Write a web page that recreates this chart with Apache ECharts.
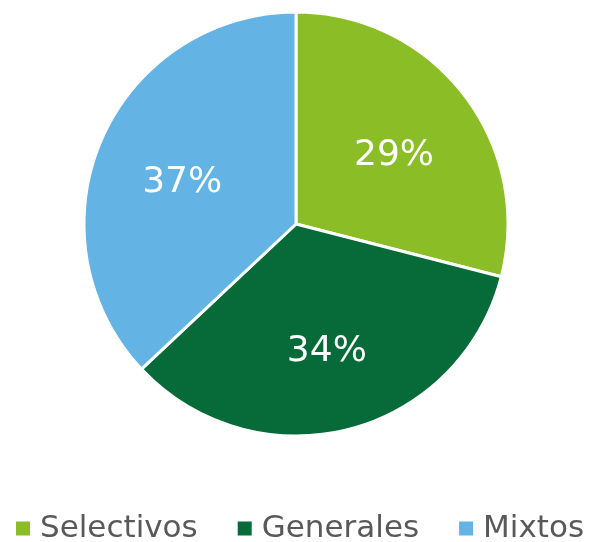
<!DOCTYPE html>
<html>
<head>
<meta charset="utf-8">
<script src="https://cdn.jsdelivr.net/npm/echarts@6/dist/echarts.min.js"></script>
<style>
  html, body { margin: 0; padding: 0; background: #ffffff; }
  #chart { width: 592px; height: 542px; }
</style>
</head>
<body>
<div id="chart"></div>
<script>
// Share of each type (percent)
const categories = ['Selectivos', 'Generales', 'Mixtos'];
const shares = [29, 34, 37];
const colors = ['#8BBD27', '#066B38', '#63B3E4'];

const pieData = categories.map((name, i) => ({
  name: name,
  value: shares[i],
  itemStyle: { color: colors[i] }
}));

const chart = echarts.init(document.getElementById('chart'), null, { renderer: 'canvas' });
chart.setOption({
  animation: false,
  backgroundColor: '#ffffff',
  legend: {
    top: 513,
    left: 16,
    padding: 0,
    itemWidth: 14,
    itemHeight: 14,
    itemGap: 40,
    icon: 'rect',
    itemStyle: { borderWidth: 0 },
    data: categories,
    textStyle: {
      fontFamily: 'DejaVu Sans',
      fontSize: 31,
      color: '#595959',
      padding: [0, 0, 0, 5]
    }
  },
  series: [
    {
      type: 'pie',
      center: [296, 224],
      radius: 212,
      startAngle: 90,
      clockwise: true,
      label: { show: false },
      labelLine: { show: false },
      itemStyle: { borderColor: '#ffffff', borderWidth: 3 },
      emphasis: { disabled: true },
      data: pieData
    },
    {
      // label carrier: places the percentages a bit further out than mid-radius
      type: 'pie',
      center: [296, 224],
      radius: 242,
      startAngle: 90,
      clockwise: true,
      silent: true,
      legendHoverLink: false,
      itemStyle: { color: 'rgba(0,0,0,0)' },
      label: {
        show: true,
        position: 'inside',
        formatter: p => p.value + '%',
        fontFamily: 'DejaVu Sans',
        fontSize: 36,
        color: '#ffffff',
        offset: [0, 8]
      },
      labelLine: { show: false },
      emphasis: { disabled: true },
      data: categories.map((name, i) => ({ name: name, value: shares[i] }))
    }
  ]
});
</script>
</body>
</html>
